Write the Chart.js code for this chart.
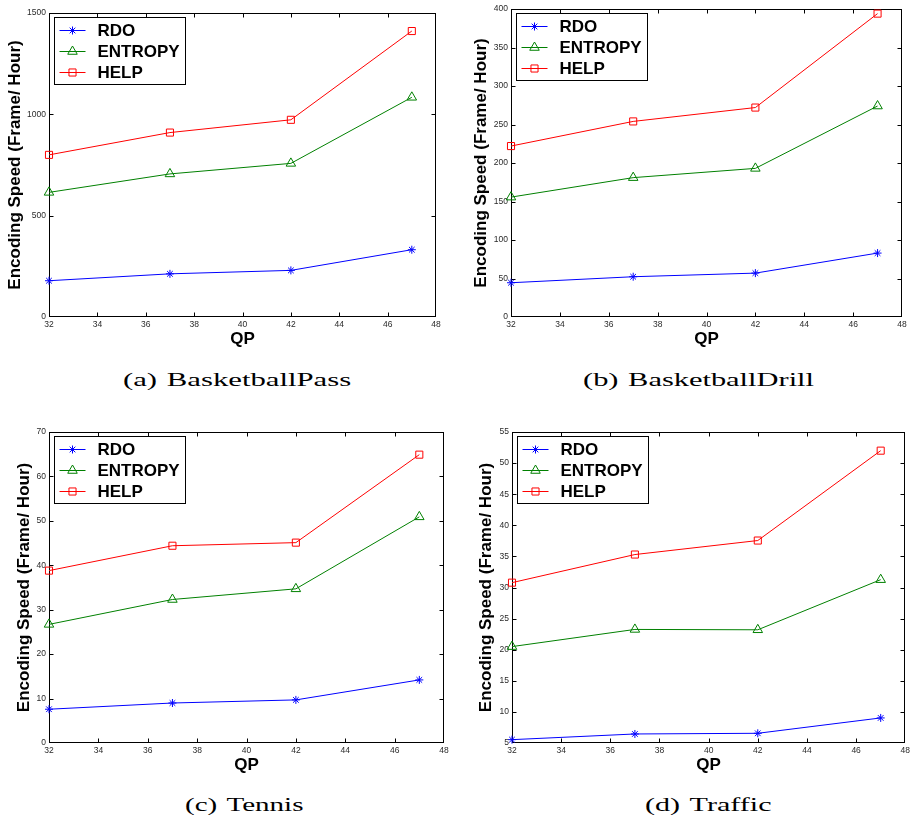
<!DOCTYPE html>
<html>
<head>
<meta charset="utf-8">
<title>Encoding speed vs QP</title>
<script src="https://cdn.jsdelivr.net/npm/chart.js@4.4.1/dist/chart.umd.min.js"></script>
<style>
  html,body{margin:0;padding:0;background:#fff}
  #fig{position:relative;width:913px;height:820px;overflow:hidden;background:#fff}
  #fig canvas{position:absolute}
  .cap{position:absolute;font-family:"Liberation Serif","DejaVu Serif",serif;font-size:19px;line-height:1;color:#000;white-space:nowrap;transform-origin:0 0}
  .cap span{margin-left:6px}
</style>
</head>
<body>
<div id="fig"></div>
<script>
// QP points (x axis)
const qp = [32, 37, 42, 47];
const seriesNames = ['RDO', 'ENTROPY', 'HELP'];

// Encoding speed, frame/hour
const passRdo     = [179, 213, 230, 332];
const passEntropy = [615, 706, 758, 1084];
const passHelp    = [800, 910, 973, 1411];

const drillRdo     = [44.5, 52.3, 57, 83];
const drillEntropy = [155.7, 181, 193, 274];
const drillHelp    = [222, 254, 272, 394];

const tennisRdo     = [7.6, 9.0, 9.7, 14.2];
const tennisEntropy = [26.7, 32.3, 34.7, 50.9];
const tennisHelp    = [38.8, 44.4, 45.1, 64.9];

const trafficRdo     = [5.54, 6.45, 6.56, 9.03];
const trafficEntropy = [20.5, 23.26, 23.2, 31.26];
const trafficHelp    = [30.78, 35.3, 37.55, 52.0];

// y axis ranges [min, max, step]
const passRange    = [0, 1500, 500];
const drillRange   = [0, 400, 50];
const tennisRange  = [0, 70, 10];
const trafficRange = [5, 55, 5];

// x axis range [min, max, step]
const qpRange = [32, 48, 2];

// line look per series
const STYLE = [
  { color:'#0000ff', point:'star',     r:4   },
  { color:'#008000', point:'triangle', r:5.5 },
  { color:'#ff0000', point:'rect',     r:5   }
];

// panel boxes: canvas rect, plot rect, y title offset, caption
const PANELS = [
  { cap:'(a)', name:'BasketballPass',  data:[passRdo, passEntropy, passHelp],          range:passRange,
    x0:0,   y0:0,   w:460, area:{l:49,  r:436, t:13,  b:317}, yTitle:4.8,
    capL:122.7, capW:228, capTop:370 },
  { cap:'(b)', name:'BasketballDrill', data:[drillRdo, drillEntropy, drillHelp],       range:drillRange,
    x0:460, y0:0,   w:453, area:{l:511, r:902, t:9,   b:317}, yTitle:10.8,
    capL:582.7, capW:230.6, capTop:370 },
  { cap:'(c)', name:'Tennis',          data:[tennisRdo, tennisEntropy, tennisHelp],    range:tennisRange,
    x0:0,   y0:420, w:460, area:{l:49,  r:444, t:432, b:743}, yTitle:14.3,
    capL:185, capW:117.7, capTop:795 },
  { cap:'(d)', name:'Traffic',         data:[trafficRdo, trafficEntropy, trafficHelp], range:trafficRange,
    x0:460, y0:420, w:453, area:{l:512, r:907, t:432, b:743}, yTitle:16.5,
    capL:645, capW:126.7, capTop:795 }
];

const SANS = '"Liberation Sans", Arial, sans-serif';
const TICK_LEN = 4;

// ─ Boxed frame with inward ticks on all four sides ─
const framePlugin = {
  id:'frame',
  beforeDatasetsDraw(chart) {
    const { ctx, chartArea:a, scales:{ x, y } } = chart;
    const L = Math.round(a.left) + .5, R = Math.round(a.right) - .5;
    const T = Math.round(a.top) + .5,  B = Math.round(a.bottom) - .5;
    ctx.save();
    ctx.strokeStyle = '#000';
    ctx.lineWidth = 1;
    ctx.strokeRect(L, T, R - L, B - T);
    ctx.beginPath();
    x.ticks.forEach(t => {
      const px = Math.round(x.getPixelForValue(t.value)) + .5;
      if (px <= L + 1 || px >= R - 1) return;
      ctx.moveTo(px, B); ctx.lineTo(px, B - TICK_LEN);
      ctx.moveTo(px, T); ctx.lineTo(px, T + TICK_LEN);
    });
    y.ticks.forEach(t => {
      const py = Math.round(y.getPixelForValue(t.value)) + .5;
      if (py <= T + 1 || py >= B - 1) return;
      ctx.moveTo(L, py); ctx.lineTo(L + TICK_LEN, py);
      ctx.moveTo(R, py); ctx.lineTo(R - TICK_LEN, py);
    });
    ctx.stroke();
    ctx.restore();
  }
};

// ─ Marker shapes (used for the legend swatches) ─
function drawMarker(ctx, style, x, y, r) {
  ctx.beginPath();
  if (style === 'rect') {
    const s = r / Math.SQRT2;
    ctx.rect(x - s, y - s, 2 * s, 2 * s);
  } else if (style === 'triangle') {
    for (let i = 0; i < 3; i++) {
      const ang = i * 2 * Math.PI / 3;
      const px = x + Math.sin(ang) * r, py = y - Math.cos(ang) * r;
      i ? ctx.lineTo(px, py) : ctx.moveTo(px, py);
    }
    ctx.closePath();
  } else {
    for (let i = 0; i < 4; i++) {
      const ang = i * Math.PI / 4;
      ctx.moveTo(x - Math.cos(ang) * r, y - Math.sin(ang) * r);
      ctx.lineTo(x + Math.cos(ang) * r, y + Math.sin(ang) * r);
    }
  }
  ctx.stroke();
}

// ─ Legend box in the top-left corner of the plot ─
const legendPlugin = {
  id:'boxLegend',
  afterDatasetsDraw(chart) {
    const { ctx, chartArea:a } = chart;
    const bx = Math.round(a.left) + 5.5, by = Math.round(a.top) + 4.5;
    const bw = 131, bh = 67;
    ctx.save();
    ctx.fillStyle = '#fff';
    ctx.fillRect(bx, by, bw, bh);
    ctx.strokeStyle = '#000';
    ctx.lineWidth = 1;
    ctx.strokeRect(bx, by, bw, bh);
    ctx.font = `bold 17px ${SANS}`;
    ctx.textBaseline = 'middle';
    chart.data.datasets.forEach((ds, i) => {
      const st = STYLE[i];
      const ry = by + 13 + i * 21;
      ctx.strokeStyle = st.color;
      ctx.lineWidth = 1;
      ctx.beginPath();
      ctx.moveTo(bx + 5, ry); ctx.lineTo(bx + 31, ry);
      ctx.stroke();
      drawMarker(ctx, st.point, bx + 18, ry, st.r);
      ctx.fillStyle = '#000';
      ctx.fillText(ds.label, bx + 43, ry + 1);
    });
    ctx.restore();
  }
};

function buildPanel(p) {
  const fig = document.getElementById('fig');
  const h = p.area.b - p.y0 + 33;
  const cv = document.createElement('canvas');
  cv.width = p.w; cv.height = h;
  cv.style.left = p.x0 + 'px'; cv.style.top = p.y0 + 'px';
  cv.style.width = p.w + 'px'; cv.style.height = h + 'px';
  fig.appendChild(cv);

  const [yMin, yMax, yStep] = p.range;
  const tickFont = { family:SANS, size:8.5 };
  const plain = v => String(v);

  new Chart(cv, {
    type:'line',
    data:{
      datasets: p.data.map((vals, i) => ({
        label: seriesNames[i],
        data: qp.map((q, k) => ({ x:q, y:vals[k] })),
        borderColor: STYLE[i].color,
        backgroundColor: 'rgba(0,0,0,0)',
        borderWidth: 1,
        tension: 0,
        pointStyle: STYLE[i].point,
        pointRadius: STYLE[i].r,
        pointHoverRadius: STYLE[i].r,
        pointBorderWidth: 1,
        pointBorderColor: STYLE[i].color,
        pointBackgroundColor: 'rgba(0,0,0,0)',
        clip: false
      }))
    },
    options:{
      responsive:false,
      animation:false,
      devicePixelRatio:1,
      events:[],
      layout:{ padding:{ left:0, top:p.area.t - p.y0, right:p.x0 + p.w - p.area.r, bottom:0 } },
      plugins:{ legend:{ display:false }, tooltip:{ enabled:false } },
      scales:{
        x:{
          type:'linear', min:qpRange[0], max:qpRange[1],
          grid:{ display:false, drawTicks:false }, border:{ display:false },
          ticks:{ stepSize:qpRange[2], font:tickFont, color:'#2a2a2a', padding:3, maxRotation:0, callback:plain },
          title:{ display:true, text:'QP', color:'#000', font:{ family:SANS, size:17, weight:'bold' }, padding:{ top:0, bottom:0 } },
          afterFit: s => { s.height = p.y0 + h - p.area.b; }
        },
        y:{
          type:'linear', min:yMin, max:yMax,
          grid:{ display:false, drawTicks:false }, border:{ display:false },
          ticks:{ stepSize:yStep, font:tickFont, color:'#2a2a2a', padding:3, callback:plain },
          title:{ display:true, text:'Encoding Speed (Frame/ Hour)', color:'#000', font:{ family:SANS, size:17, weight:'bold' }, padding:{ top:p.yTitle, bottom:0 } },
          afterFit: s => { s.width = p.area.l - p.x0; }
        }
      }
    },
    plugins:[framePlugin, legendPlugin]
  });

  // sub-figure caption, stretched to the column width
  const cap = document.createElement('div');
  cap.className = 'cap';
  cap.innerHTML = `${p.cap}<span>${p.name}</span>`;
  cap.style.left = p.capL + 'px';
  cap.style.top = p.capTop + 'px';
  fig.appendChild(cap);
  const natural = cap.offsetWidth;
  cap.style.transform = `scaleX(${p.capW / natural})`;
}

PANELS.forEach(buildPanel);
</script>
</body>
</html>
